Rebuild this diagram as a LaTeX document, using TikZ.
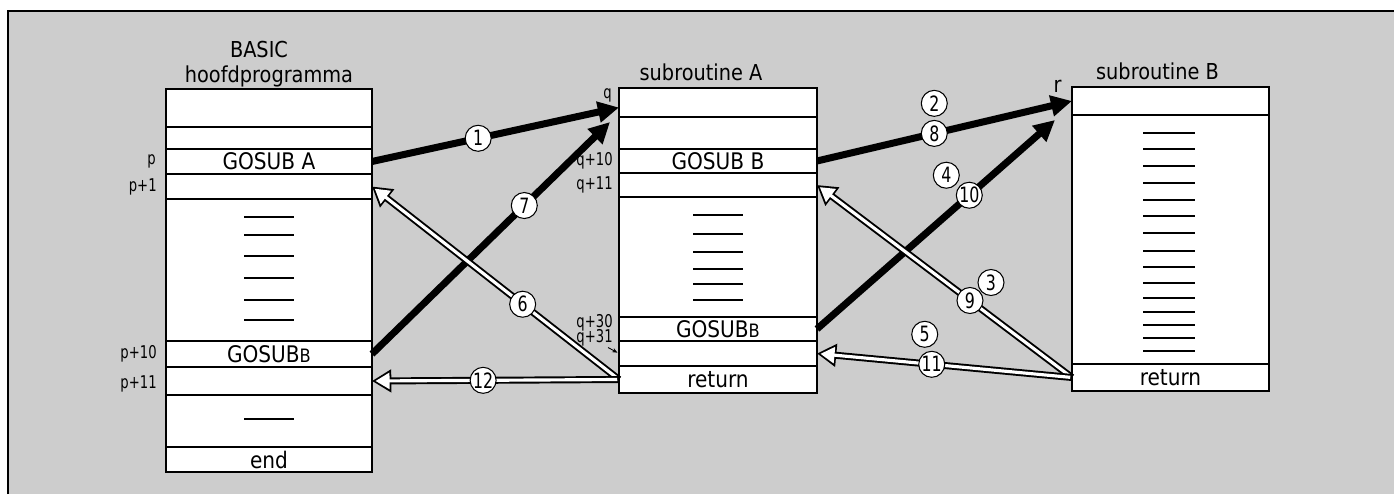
\documentclass[tikz,border=0pt]{standalone}
\usepackage{fontspec}
\setmainfont{DejaVu Sans}[FakeStretch=0.88]
\newfontfamily\narrowfont{DejaVu Sans}[FakeStretch=0.75]
\usetikzlibrary{arrows.meta, positioning}
\definecolor{cPaper}{RGB}{205,205,205}
\tikzset{
	cell/.style   ={rectangle, draw=black, line width=0.8pt, fill=white, anchor=north west, minimum width=#1, inner sep=0pt, outer sep=0pt, font=\fontsize{13}{14}\selectfont},
	addr/.style   ={inner sep=0pt, font=\narrowfont\fontsize{10}{10}\selectfont},
	ttl/.style    ={inner sep=0pt, font=\fontsize{12.5}{13}\selectfont},
	filler/.style ={line width=0.6pt},
	num/.style    ={circle, draw=black, line width=0.6pt, fill=white, minimum size=0.52cm, inner sep=0pt, font=\narrowfont\fontsize{12}{12}\selectfont},
	% jump into a subroutine
	callarr/.style={line width=4pt, -{Triangle[length=12pt, width=11.5pt]}},
	% jump back: white shaft with a black rim
	retarr/.style ={line width=1.8pt, draw=white, shorten >=2pt, shorten <=1pt, -{Triangle[length=8pt, width=9pt]},
	                preaction={draw=black, line width=4pt, shorten >=0pt, shorten <=0pt, -{Triangle[length=11pt, width=12.5pt]}}},
	pointer/.style={line width=0.5pt, -{Stealth[length=3pt, width=2.5pt]}, shorten >=1pt},
}
\newcommand{\smallB}{{\fontsize{10.5}{11}\selectfont B}}

\begin{document}
\begin{tikzpicture}[x=0.02cm, y=-0.02cm]
	\useasboundingbox (0,0) rectangle (1394,494);
	\fill[cPaper] (8,11) rectangle (1394,494);
	\draw[line width=1.5pt] (8,494) -- (8,11) -- (1394,11);

	% BASIC main program
	\node[cell=4.12cm, minimum height=0.76cm] (h1) at (166,89) {};
	\node[cell=4.12cm, minimum height=0.44cm] (h2) at (166,127) {};
	\node[cell=4.12cm, minimum height=0.50cm] (h3) at (166,149) {GOSUB A};
	\node[cell=4.12cm, minimum height=0.50cm] (h4) at (166,174) {};
	\node[cell=4.12cm, minimum height=2.84cm] (h5) at (166,199) {};
	\node[cell=4.12cm, minimum height=0.52cm] (h6) at (166,341) {GOSUB\smallB};
	\node[cell=4.12cm, minimum height=0.56cm] (h7) at (166,367) {};
	\node[cell=4.12cm, minimum height=1.04cm] (h8) at (166,395) {};
	\node[cell=4.12cm, minimum height=0.50cm] (h9) at (166,447) {end};
	\foreach \y in {217,235,256,278,300,320,419}
		\draw[filler] (244,\y) -- (294,\y);
	\node[ttl, above=0.04cm of h1] (tHoofd) {hoofdprogramma};
	\node[ttl, above=0.14cm of tHoofd, xshift=-0.2cm] (tBasic) {BASIC};
	\node[addr, anchor=east] (lp)   at ([xshift=-0.2cm]h3.west) {p};
	\node[addr, anchor=east] (lp1)  at ([xshift=-0.18cm]h4.west) {p+1};
	\node[addr, anchor=east] (lp10) at ([xshift=-0.18cm]h6.west) {p+10};
	\node[addr, anchor=east] (lp11) at ([xshift=-0.18cm, yshift=-0.06cm]h7.west) {p+11};

	% subroutine A
	\node[cell=3.96cm, minimum height=0.58cm] (a1) at (619,88) {};
	\node[cell=3.96cm, minimum height=0.64cm] (a2) at (619,117) {};
	\node[cell=3.96cm, minimum height=0.48cm] (a3) at (619,149) {GOSUB B};
	\node[cell=3.96cm, minimum height=0.48cm] (a4) at (619,173) {};
	\node[cell=3.96cm, minimum height=2.40cm] (a5) at (619,197) {};
	\node[cell=3.96cm, minimum height=0.48cm] (a6) at (619,317) {GOSUB\smallB};
	\node[cell=3.96cm, minimum height=0.50cm] (a7) at (619,341) {};
	\node[cell=3.96cm, minimum height=0.54cm] (a8) at (619,366) {return};
	\foreach \y in {215,234,252,269,284,300}
		\draw[filler] (693,\y) -- (743,\y);
	\node[ttl, above=0.14cm of a1, xshift=-0.34cm] (tSubA) {subroutine A};
	\node[addr, anchor=north east] (lq)   at ([xshift=-0.14cm]a1.north west) {q};
	\node[addr, anchor=east] (lq10) at ([xshift=-0.12cm]a3.west) {q+10};
	\node[addr, anchor=east] (lq11) at ([xshift=-0.12cm]a4.west) {q+11};
	\node[addr, anchor=east] (lq30) at ([xshift=-0.12cm, yshift=0.12cm]a6.west) {q+30};
	\node[addr, anchor=east] (lq31) at ([xshift=-0.12cm, yshift=0.06cm]a6.south west) {q+31};
	\coordinate (q31tail) at ([shift={(-11,-6)}]a7.west);
	\draw[pointer] (q31tail) -- (a7.west);

	% subroutine B
	\node[cell=3.94cm, minimum height=0.56cm] (b1) at (1072,87) {};
	\node[cell=3.94cm, minimum height=4.98cm] (b2) at (1072,115) {};
	\node[cell=3.94cm, minimum height=0.54cm] (b3) at (1072,364) {return};
	\foreach \y in {133,149,166,183,200,216,233,251,267,283,298,312,325,338,351}
		\draw[filler] (1143,\y) -- (1195,\y);
	\node[ttl, above=0.14cm of b1, xshift=-0.26cm] (tSubB) {subroutine B};
	\node[ttl, anchor=south east] (lr) at ([xshift=-0.2cm, yshift=-0.12cm]b1.north west) {r};

	% calls
	\draw[callarr] (h3.east) -- ([yshift=-0.1cm]a1.west) node[num, pos=0.43] (n1) {1};
	\draw[callarr] (h6.east) -- ([xshift=-0.18cm, yshift=-0.1cm]a2.north west) node[num, pos=0.64] (n7) {7};
	\draw[callarr] (a3.east) -- (b1.west) node[num, pos=0.46] (n8) {8};
	\node[num, above=0.06cm of n8] (n2) {2};
	\draw[callarr] (a6.east) -- ([xshift=-0.34cm, yshift=-0.1cm]b2.north west) node[num, pos=0.64] (n10) {10};
	\node[num] (n4) at ([shift={(-23,-20)}]n10) {4};

	% returns
	\draw[retarr] (a8.west) -- (h4.east) node[num, pos=0.39] (n6) {6};
	\draw[retarr] (a8.west) -- (h7.east) node[num, pos=0.55] (n12) {12};
	\draw[retarr] (b3.west) -- (a4.east) node[num, pos=0.40] (n9) {9};
	\node[num] (n3) at ([shift={(21,-18)}]n9) {3};
	\draw[retarr] (b3.west) -- (a7.east) node[num, pos=0.55] (n11) {11};
	\node[num] (n5) at ([shift={(-7,-30)}]n11) {5};
\end{tikzpicture}
\end{document}
